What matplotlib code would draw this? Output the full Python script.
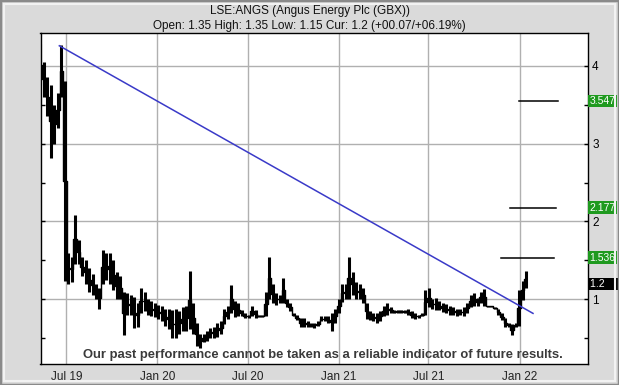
import numpy as np
import pandas as pd
import matplotlib
matplotlib.use("Agg")
import matplotlib.pyplot as plt

plt.rcParams['font.family'] = ['Liberation Sans', 'DejaVu Sans']

# weekly high / low (GBX)
start_date = "2019-05-10"
highs = [4.28, 4.05, 3.85, 3.75, 3.50, 3.65, 4.26, 3.80, 1.60, 1.55,
         2.08, 1.76, 1.54, 1.50, 1.40, 1.33, 1.20, 1.15, 1.63, 1.60,
         1.59, 1.50, 1.35, 1.30, 1.10, 1.08, 1.05, 1.03, 0.95, 1.15,
         1.10, 1.00, 0.98, 0.95, 0.93, 0.92, 0.88, 0.87, 0.86, 0.88,
         0.85, 0.90, 0.92, 1.36, 0.95, 0.70, 0.55, 0.56, 0.60, 0.63,
         0.65, 0.70, 0.72, 0.88, 0.92, 1.18, 0.98, 0.95, 0.86, 0.82,
         0.80, 0.92, 0.86, 0.80, 0.80, 1.10, 1.54, 1.20, 1.08, 1.05,
         1.28, 1.00, 0.95, 0.82, 0.80, 0.76, 0.76, 0.72, 0.70, 0.70,
         0.72, 0.78, 0.78, 0.78, 0.82, 0.88, 1.00, 1.20, 1.20, 1.54,
         1.35, 1.22, 1.20, 1.15, 0.95, 0.85, 0.82, 0.82, 0.85, 0.92,
         0.95, 0.90, 0.86, 0.86, 0.86, 0.86, 0.88, 0.85, 0.82, 0.80,
         0.82, 1.12, 1.14, 1.00, 1.02, 0.98, 0.95, 0.94, 0.92, 0.90,
         0.88, 0.88, 0.90, 0.95, 1.05, 1.08, 1.02, 1.10, 1.13, 0.92,
         0.92, 0.90, 0.88, 0.82, 0.76, 0.70, 0.68, 0.70, 1.12, 1.24,
         1.36]
lows = [3.75, 3.60, 3.35, 2.82, 3.00, 3.20, 3.60, 1.24, 1.20, 1.22,
        1.46, 1.45, 1.30, 1.20, 1.10, 1.05, 1.00, 0.88, 1.20, 1.25,
        1.20, 1.12, 1.00, 1.00, 0.54, 0.80, 0.80, 0.63, 0.65, 0.82,
        0.85, 0.80, 0.78, 0.77, 0.75, 0.72, 0.66, 0.62, 0.50, 0.50,
        0.55, 0.60, 0.60, 0.62, 0.56, 0.40, 0.38, 0.45, 0.47, 0.50,
        0.50, 0.52, 0.55, 0.68, 0.75, 0.82, 0.77, 0.78, 0.78, 0.76,
        0.76, 0.78, 0.76, 0.77, 0.77, 0.78, 1.00, 0.95, 0.93, 0.95,
        0.95, 0.90, 0.85, 0.78, 0.73, 0.64, 0.64, 0.64, 0.64, 0.63,
        0.66, 0.72, 0.72, 0.70, 0.60, 0.70, 0.82, 0.96, 1.00, 1.00,
        1.05, 1.00, 1.00, 0.95, 0.75, 0.73, 0.72, 0.70, 0.72, 0.78,
        0.80, 0.82, 0.82, 0.83, 0.83, 0.82, 0.80, 0.76, 0.75, 0.76,
        0.78, 0.80, 0.90, 0.87, 0.86, 0.86, 0.84, 0.82, 0.80, 0.80,
        0.79, 0.80, 0.78, 0.82, 0.90, 0.92, 0.92, 0.95, 0.92, 0.90,
        0.90, 0.88, 0.80, 0.73, 0.64, 0.64, 0.54, 0.64, 0.66, 0.99,
        1.15]

trend_dates = ["2019-06-17", "2022-01-28"]
trend_values = [4.256, 0.82]

target_values = [3.547, 2.177, 1.536]
target_starts = ["2021-12-30", "2021-12-13", "2021-11-25"]
target_ends = ["2022-03-20", "2022-03-16", "2022-03-12"]
current_price = 1.2

tick_dates = ["2019-07-01", "2020-01-01", "2020-07-01", "2021-01-01", "2021-07-01", "2022-01-01"]
tick_labels = ["Jul 19", "Jan 20", "Jul 20", "Jan 21", "Jul 21", "Jan 22"]

title = "LSE:ANGS (Angus Energy Plc (GBX))"
subtitle = "Open: 1.35 High: 1.35 Low: 1.15 Cur: 1.2 (+00.07/+06.19%)"
disclaimer = "Our past performance cannot be taken as a reliable indicator of future results."

W, H = 619, 385
fig = plt.figure(figsize=(W / 100, H / 100), dpi=100)
fig.patch.set_facecolor('#dadada')
# bevelled frame
fig.patches.append(plt.Rectangle((0, 0), 1, 1, transform=fig.transFigure, fill=False,
                                 edgecolor='#8a8a8a', lw=2.5))
fig.patches.append(plt.Rectangle((4 / W, 4 / H), 1 - 8 / W, 1 - 8 / H, transform=fig.transFigure,
                                 fill=False, edgecolor='#f2f2f2', lw=1.5))

ax = fig.add_axes([40.5 / W, 1 - 364 / H, (588 - 40.5) / W, (364 - 33) / H])
ax.set_facecolor('white')

dates = pd.date_range(start_date, periods=len(highs), freq='7D')
highs = np.array(highs)
lows = np.array(lows)
ax.vlines(dates, lows, highs, color='black', lw=2.2, zorder=3)
ax.step(dates, (highs + lows) / 2, where='mid', color='black', lw=1, zorder=3)

ax.plot(pd.to_datetime(trend_dates), trend_values, color='#3a3ac8', lw=1.1, zorder=4)

for v, s, e in zip(target_values, target_starts, target_ends):
    ax.plot(pd.to_datetime([s, e]), [v, v], color='black', lw=1.1, zorder=4)

ax.set_xlim(pd.Timestamp("2019-05-10"), pd.Timestamp("2022-05-19"))
ax.set_ylim(0.17, 4.42)

ax.set_xticks(pd.to_datetime(tick_dates))
ax.set_xticklabels(tick_labels, fontsize=8.5, color='#222222')
ax.tick_params(axis='x', length=0, pad=5)

ax.yaxis.tick_right()
ax.set_yticks([1, 2, 3, 4])
ax.set_yticklabels(["1", "2", "3", "4"], fontsize=8.5)
ax.set_yticks([0.5, 1.5, 2.5, 3.5], minor=True)
ax.tick_params(axis='y', which='both', left=True, right=True, direction='in', length=3,
               width=1, labelleft=False, labelright=True, pad=3)

ax.grid(True, which='major', color='#b0b0b0', lw=1, zorder=1)
for sp in ax.spines.values():
    sp.set_color('black')
    sp.set_linewidth(1)

# price labels on the right
trans = ax.get_yaxis_transform()
for v in target_values:
    ax.text(1.003, v, f"{v:.3f}", transform=trans, ha='left', va='center', fontsize=7.5,
            color='white', clip_on=False,
            bbox=dict(boxstyle='square,pad=0.12', fc='#1f9a1f', ec='none'))
ax.text(1.003, current_price, f"{current_price:.1f}     ", transform=trans, ha='left', va='center',
        fontsize=7.5, color='white', clip_on=False,
        bbox=dict(boxstyle='square,pad=0.12', fc='black', ec='none'))

fig.text(0.5, 1 - 11 / H, title, ha='center', va='center', fontsize=8.5, color='#111111')
fig.text(0.5, 1 - 26 / H, subtitle, ha='center', va='center', fontsize=8.5, color='#111111')

ax.text(0.515, 0.027, disclaimer, transform=ax.transAxes, ha='center', va='center',
        fontsize=9.4, fontweight='bold', color='#3a3a3a', zorder=5)

fig.savefig("out.png", dpi=100, facecolor=fig.get_facecolor())
